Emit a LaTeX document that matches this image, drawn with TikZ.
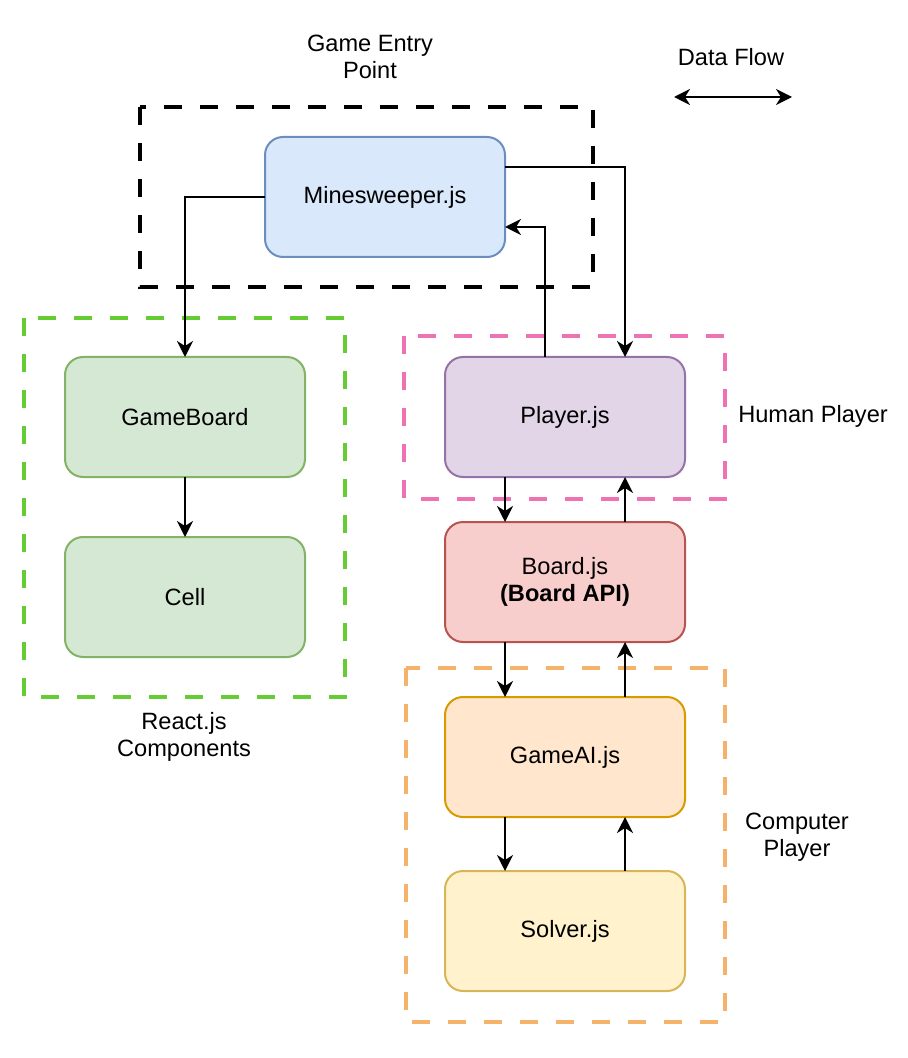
\documentclass[tikz,border=0pt]{standalone}
\usepackage{fontspec}
\setmainfont{Liberation Sans}
\usetikzlibrary{arrows.meta}
\definecolor{blueFill}{HTML}{DAE8FC}\definecolor{blueLine}{HTML}{6C8EBF}
\definecolor{greenFill}{HTML}{D5E8D4}\definecolor{greenLine}{HTML}{82B366}
\definecolor{purpleFill}{HTML}{E1D5E7}\definecolor{purpleLine}{HTML}{9673A6}
\definecolor{redFill}{HTML}{F8CECC}\definecolor{redLine}{HTML}{B85450}
\definecolor{orangeFill}{HTML}{FFE6CC}\definecolor{orangeLine}{HTML}{D79B00}
\definecolor{yellowFill}{HTML}{FFF2CC}\definecolor{yellowLine}{HTML}{D6B656}
\definecolor{groupGreen}{HTML}{66CC33}
\definecolor{groupPink}{HTML}{EF72B2}
\definecolor{groupOrange}{HTML}{F5B26B}
\begin{document}
\begin{tikzpicture}[x=0.5pt,y=-0.5pt,
  font=\fontsize{11.8pt}{13.8pt}\selectfont,
  module/.style={shape=rectangle,rounded corners=9pt,line width=1pt,
    minimum width=120pt,minimum height=60pt,align=center,outer sep=0pt},
  groupbox/.style={line width=2pt,dash pattern=on 9pt off 9pt},
  flow/.style={line width=1pt,-{Stealth[length=8pt,width=8pt,inset=2.5pt]}},
  label/.style={align=center}]
\useasboundingbox (0,0) rectangle (908,1058);

% groups
\draw[groupbox,black] (140,107) rectangle (593,287);
\draw[groupbox,groupGreen] (24,318) rectangle (345,697);
\draw[groupbox,groupPink] (404,336) rectangle (725,499);
\draw[groupbox,groupOrange] (406,668) rectangle (725,1022);

% modules
\node[module,draw=blueLine,fill=blueFill] (mine) at (385,197) {Minesweeper.js};
\node[module,draw=greenLine,fill=greenFill] (gameboard) at (185,417) {GameBoard};
\node[module,draw=greenLine,fill=greenFill] (cell) at (185,597) {Cell};
\node[module,draw=purpleLine,fill=purpleFill] (player) at (565,417) {Player.js};
\node[module,draw=redLine,fill=redFill] (board) at (565,582) {Board.js\\\textbf{(Board API)}};
\node[module,draw=orangeLine,fill=orangeFill] (gameai) at (565,757) {GameAI.js};
\node[module,draw=yellowLine,fill=yellowFill] (solver) at (565,931) {Solver.js};

% labels
\node[label] (entry) at (370,57) {Game Entry\\Point};
\node[label] (dataflow) at (731,57) {Data Flow};
\node[label] (human) at (813,416) {Human Player};
\node[label] (react) at (184,737) {React.js\\Components};
\node[label] (computer) at (797,837) {Computer\\Player};

% legend arrow
\coordinate (legL) at (674,97);
\coordinate (legR) at (792,97);
\draw[line width=1pt,{Stealth[length=8pt,width=8pt,inset=2.5pt]}-{Stealth[length=8pt,width=8pt,inset=2.5pt]}] (legL) -- (legR);

% connections
\draw[flow] (mine.west) -| (gameboard.north);
\draw[flow] (gameboard.south) -- (cell.north);
\draw[flow] ([yshift=15pt]mine.east) -| ([xshift=30pt]player.north);
\draw[flow] ([xshift=-10pt]player.north) |- ([yshift=-15pt]mine.east);
\draw[flow] ([xshift=-30pt]player.south) -- ([xshift=-30pt]board.north);
\draw[flow] ([xshift=30pt]board.north) -- ([xshift=30pt]player.south);
\draw[flow] ([xshift=-30pt]board.south) -- ([xshift=-30pt]gameai.north);
\draw[flow] ([xshift=30pt]gameai.north) -- ([xshift=30pt]board.south);
\draw[flow] ([xshift=-30pt]gameai.south) -- ([xshift=-30pt]solver.north);
\draw[flow] ([xshift=30pt]solver.north) -- ([xshift=30pt]gameai.south);
\end{tikzpicture}
\end{document}
